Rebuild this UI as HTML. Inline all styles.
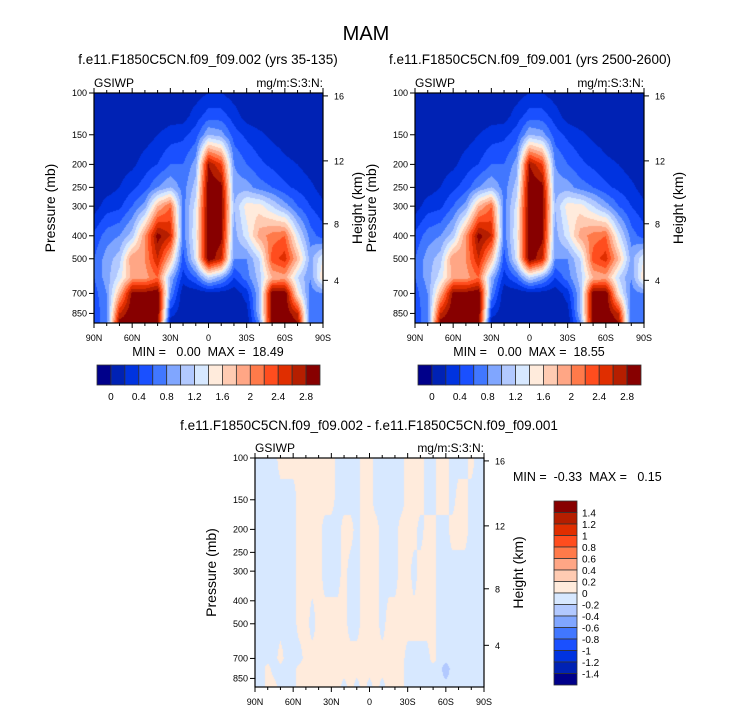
<!DOCTYPE html>
<html><head><meta charset="utf-8"><style>
html,body{margin:0;padding:0;background:#fff;}
#wrap{position:relative;width:733px;height:712px;overflow:hidden;font-family:"Liberation Sans",Arial,sans-serif;}
canvas{position:absolute;}
svg{position:absolute;left:0;top:0;}
</style></head><body>
<div id="wrap">
<canvas id="c1" width="229" height="230" style="left:94px;top:93px"></canvas>
<canvas id="c2" width="229" height="230" style="left:415px;top:93px"></canvas>
<canvas id="c3" width="229" height="229" style="left:255px;top:458px"></canvas>
<svg id="ov" width="733" height="712"></svg>
</div>
<script>
// ---------- data ----------
const lats=[90,80,70,60,50,40,30,20,10,0,-10,-20,-30,-40,-50,-60,-70,-80,-90];
const presLevels=[100,125,150,200,250,300,400,500,600,700,850,925];
const iwp002=[
[.05,.05,.05,.05,.05,.1,.45,.6,.6,.5,.5,.5],
[.05,.05,.05,.05,.1,.3,.7,.9,.9,.8,.7,.7],
[.05,.05,.05,.1,.2,.35,.8,1.1,1.3,1.8,2.6,2.9],
[.05,.05,.05,.15,.35,.6,1.1,2.0,1.9,2.9,3.0,3.0],
[.05,.05,.1,.3,.5,.9,2.0,2.0,1.9,2.9,3.0,3.0],
[.05,.05,.2,.4,.8,1.8,2.9,2.6,2.2,3.0,3.0,2.8],
[.05,.1,.3,.6,1.0,2.2,2.6,1.8,1.0,.8,.3,.1],
[.05,.1,.35,.6,.7,.7,.7,.5,.3,.05,.05,.05],
[.1,.3,.5,.9,1.1,1.3,1.4,1.3,.6,.05,.05,.05],
[.2,.5,1.0,2.8,3.0,3.0,3.0,3.0,1.2,.1,.05,.05],
[.2,.5,.9,2.4,2.9,3.0,2.9,2.6,.9,.1,.05,.05],
[.1,.3,.5,.8,.9,1.0,.9,.8,.4,.05,.05,.05],
[.05,.1,.35,.6,.9,1.5,1.3,.8,.7,.3,.1,.05],
[.05,.05,.25,.45,.7,1.5,1.9,1.2,1.1,1.0,1.0,.8],
[.05,.05,.15,.35,.6,1.2,2.1,2.3,1.8,3.0,3.0,3.0],
[.05,.05,.1,.25,.45,.9,2.2,2.5,1.9,3.0,3.0,3.0],
[.05,.05,.05,.2,.35,.6,1.3,1.8,1.2,1.5,2.6,2.8],
[.05,.05,.05,.1,.25,.4,.7,.9,.8,.7,.6,.6],
[.05,.05,.05,.05,.1,.25,.5,1.4,1.6,.8,.7,.7]];
const iwp001=[
[.05,.05,.05,.05,.05,.1,.45,.6,.6,.5,.5,.5],
[.05,.05,.05,.05,.1,.3,.7,.9,.9,.8,.7,.7],
[.05,.05,.05,.1,.2,.35,.8,1.1,1.3,1.8,2.6,2.9],
[.05,.05,.05,.15,.35,.6,1.1,2.0,1.9,2.9,3.0,3.0],
[.05,.05,.1,.3,.5,.9,2.0,2.0,1.9,2.9,3.0,3.0],
[.05,.05,.2,.4,.8,1.8,2.9,2.6,2.2,3.0,3.0,2.8],
[.05,.1,.3,.6,1.0,2.2,2.6,1.8,1.0,.8,.3,.1],
[.05,.1,.35,.6,.7,.7,.7,.5,.3,.05,.05,.05],
[.1,.3,.5,.9,1.1,1.3,1.4,1.3,.6,.05,.05,.05],
[.2,.5,1.0,2.8,3.0,3.0,3.0,3.0,1.2,.1,.05,.05],
[.2,.5,.9,2.4,2.9,3.0,2.9,2.6,.9,.1,.05,.05],
[.1,.3,.5,.8,.9,1.0,.9,.8,.4,.05,.05,.05],
[.05,.1,.35,.6,.9,1.5,1.3,.8,.7,.3,.1,.05],
[.05,.05,.25,.45,.7,1.5,1.9,1.2,1.1,1.0,1.0,.8],
[.05,.05,.15,.35,.6,1.2,2.1,2.3,1.8,3.0,3.0,3.0],
[.05,.05,.1,.25,.45,.9,2.2,2.5,1.9,3.0,3.0,3.0],
[.05,.05,.05,.2,.35,.6,1.3,1.8,1.2,1.5,2.6,2.8],
[.05,.05,.05,.1,.25,.4,.7,.9,.8,.7,.6,.6],
[.05,.05,.05,.05,.1,.25,.5,1.4,1.6,.8,.7,.7]];
const diffLats=[90,85,80,75,70,65,60,55,50,45,40,35,30,25,20,15,10,5,0,-5,-10,-15,-20,-25,-30,-35,-40,-45,-50,-55,-60,-65,-70,-75,-80,-85,-90];
const diffLevels=[100,150,200,300,500,700,775,925];
const diff100=[-.1,-.1,-.1,-.1,.1,.1,.1,.1,.1,.1,.1,.1,.1,-.1,-.1,-.1,-.1,.1,.1,-.1,-.1,-.1,-.1,-.1,.1,.1,.1,-.1,-.1,.1,.1,-.1,-.1,-.1,.1,-.1,-.1];
const diff150=[-.1,-.1,-.1,-.1,-.1,-.1,-.1,.1,.1,.1,.1,.1,.1,-.1,-.1,-.1,-.1,.1,.1,-.1,-.1,-.1,-.1,-.1,.1,.1,.1,-.1,-.1,.1,.1,-.1,.1,.1,-.1,-.1,-.1];
const diff200=[-.1,-.1,-.1,-.1,-.1,-.1,-.1,.1,.1,.1,.1,-.1,-.1,-.1,.1,.1,-.1,.1,.1,.1,-.1,-.1,-.1,.1,.1,.1,-.1,.1,.1,-.1,-.1,.1,.1,.1,-.1,-.1,-.1];
const diff300=[-.1,-.1,-.1,-.1,-.1,-.1,-.1,.1,.1,.1,.1,-.1,-.1,-.1,.1,-.1,-.1,.1,.1,.1,-.1,-.1,-.1,.1,.1,-.1,.1,.1,.1,-.1,-.1,-.1,-.1,-.1,-.1,-.1,-.1];
const diff500=[-.1,-.1,-.1,-.1,-.1,-.1,-.1,.1,.1,-.1,.1,.1,.1,.1,.1,-.1,-.1,.1,.1,.1,-.1,.1,.1,.1,.1,.1,.1,.1,.1,-.1,-.1,-.1,-.1,-.1,-.1,-.1,-.1];
const diff700=[-.1,-.1,-.1,-.1,.1,-.1,-.1,-.1,.1,.1,.1,.1,.1,.1,.1,.1,.1,.1,.1,.1,.1,.1,.1,.1,-.1,-.1,-.1,-.1,.1,-.1,-.1,-.1,-.1,-.1,-.1,-.1,-.1];
const diff775=[-.1,-.1,.1,-.1,-.1,-.1,-.1,.1,.1,.1,.1,.1,.1,.1,.1,.1,.1,.1,.1,.1,.1,.1,.1,.1,-.1,-.1,-.1,-.1,-.1,-.1,-.35,-.1,-.1,-.1,-.1,-.1,-.1];
const diff925=[-.1,-.1,.1,.1,-.1,-.1,-.1,.1,.1,.1,.1,.1,.1,.1,-.1,.1,-.1,.1,-.1,.1,-.1,.1,.1,.1,-.1,-.1,-.1,-.1,-.1,-.1,-.1,-.1,-.1,-.1,-.1,-.1,-.1];
const diffRows=[diff100,diff150,diff200,diff300,diff500,diff700,diff775,diff925];
const fieldLevelLabels=["0","0.4","0.8","1.2","1.6","2","2.4","2.8"];
const diffLevelLabels=["1.4","1.2","1","0.8","0.6","0.4","0.2","0","-0.2","-0.4","-0.6","-0.8","-1","-1.2","-1.4"];
const presTicks=[100,150,200,250,300,400,500,700,850];
const heightTicks=[4,8,12,16];
const latTicks=[90,60,30,0,-30,-60,-90];
const latLabels=["90N","60N","30N","0","30S","60S","90S"];
const colors=["#00008a","#0022b4","#0033e0","#1a50ff","#4177ff","#80a6ff","#b2c9ff","#d7e8ff","#ffebdc","#ffcbb2","#ffa685","#ff7a4a","#ff4d1e","#e02e00","#b51e00","#870000"];

// ---------- helpers ----------
const PSCALE=103;
function yOfP(p){return PSCALE*Math.log(p/100);}
function xOfLat(lat,w){return (90-lat)/180*w;}
function pOfKm(z){z*=1000;return z<=11000?1013.25*Math.pow(1-2.25577e-5*z,5.25588):226.3*Math.exp(-(z-11000)/6341.6);}
function hexRgb(h){return [parseInt(h.substr(1,2),16),parseInt(h.substr(3,2),16),parseInt(h.substr(5,2),16)];}
const rgb=colors.map(hexRgb);
function locate(arr,v,desc){
  for(let i=0;i<arr.length-1;i++){
    const a=arr[i],b=arr[i+1];
    if(desc? (v<=a&&v>=b):(v>=a&&v<=b)) return i+(v-a)/(b-a);
  }
  return desc?(v>arr[0]?0:arr.length-1):(v<arr[0]?0:arr.length-1);
}
function interp(get,nx,ny,fx,fy){
  const i=Math.min(Math.floor(fx),nx-2),j=Math.min(Math.floor(fy),ny-2);
  const tx=fx-i,ty=fy-j;
  return get(i,j)*(1-tx)*(1-ty)+get(i+1,j)*tx*(1-ty)+get(i,j+1)*(1-tx)*ty+get(i+1,j+1)*tx*ty;
}
function drawField(id,w,h,get,latArr,levArr,colorIdx){
  const cv=document.getElementById(id),ctx=cv.getContext('2d');
  const img=ctx.createImageData(w,h);
  const lnLev=levArr.map(p=>Math.log(p));
  for(let py=0;py<h;py++){
    let p=100*Math.exp((py+0.5)/PSCALE);
    const fy=locate(lnLev,Math.log(Math.min(p,levArr[levArr.length-1])),false);
    for(let px=0;px<w;px++){
      const lat=90-(px+0.5)/w*180;
      const fx=locate(latArr,lat,true);
      const v=interp(get,latArr.length,levArr.length,fx,fy);
      const c=rgb[colorIdx(v)],k=(py*w+px)*4;
      img.data[k]=c[0];img.data[k+1]=c[1];img.data[k+2]=c[2];img.data[k+3]=255;
    }
  }
  ctx.putImageData(img,0,0);
}
const topIdx=v=>v<0?0:Math.min(15,Math.floor(v/0.2)+1);
const diffIdx=v=>Math.max(0,Math.min(15,Math.floor((v+1.4)/0.2)+1));
drawField('c1',229,230,(i,j)=>iwp002[i][j],lats,presLevels,topIdx);
drawField('c2',229,230,(i,j)=>iwp001[i][j],lats,presLevels,topIdx);
drawField('c3',229,229,(i,j)=>diffRows[j][i],diffLats,diffLevels,diffIdx);

// ---------- svg ----------
const NS="http://www.w3.org/2000/svg",svg=document.getElementById('ov');
function mk(tag,attrs){const e=document.createElementNS(NS,tag);for(const k in attrs)e.setAttribute(k,attrs[k]);svg.appendChild(e);return e;}
function txt(s,x,y,size,anchor,extra){const t=mk('text',Object.assign({x:x,y:y,'font-size':size,'text-anchor':anchor||'start',fill:'#000','font-family':'Liberation Sans, Arial, sans-serif'},extra||{}));t.textContent=s;return t;}

let t=txt("MAM",366,40,20,"middle");



function panel(x0,y0,w,h,title,titleX,titleY,prefix){
  const fr=mk('rect',{x:x0,y:y0,width:w,height:h,fill:'none',stroke:'#000','stroke-width':1.2});
  
  
  let e=txt(title,titleX,titleY,13.5,"middle");
  
  
  e=txt("GSIWP",x0,y0-6,12,"start");
  
  
  e=txt("mg/m:S:3:N:",x0+w,y0-6,12,"end");
  
  
  presTicks.forEach(p=>{
    const y=y0+yOfP(p);
    const l=mk('line',{x1:x0-5,x2:x0,y1:y,y2:y,stroke:'#000','stroke-width':1});
    
    
    const tl=txt(String(p),x0-7,y+3.2,9,"end");
    
    
  });
  heightTicks.forEach(z=>{
    const y=y0+yOfP(pOfKm(z));
    const l=mk('line',{x1:x0+w,x2:x0+w+5,y1:y,y2:y,stroke:'#000','stroke-width':1});
    
    
    const tl=txt(String(z),x0+w+11,y+3.5,9,"start");
    
    
  });
  for(let lat=90;lat>=-90;lat-=10){
    const x=x0+xOfLat(lat,w),major=(lat%30===0),len=major?5:3;
    const lb=mk('line',{x1:x,x2:x,y1:y0+h,y2:y0+h+len,stroke:'#000','stroke-width':1});
    
    
    const lt=mk('line',{x1:x,x2:x,y1:y0-len,y2:y0,stroke:'#000','stroke-width':1});
    
    
  }
  latTicks.forEach((lat,i)=>{
    const tl=txt(latLabels[i],x0+xOfLat(lat,w),y0+h+18,9,"middle");
    
    
  });
  const cy=y0+h/2;
  e=txt("Pressure (mb)",0,0,14,"middle",{transform:`translate(${x0-39},${cy}) rotate(-90)`});
  
  
  e=txt("Height (km)",0,0,14,"middle",{transform:`translate(${x0+w+39},${cy}) rotate(-90)`});
  
  
}
panel(94,93,229,230,"f.e11.F1850C5CN.f09_f09.002 (yrs 35-135)",208,64,"case002");
panel(415,93,229,230,"f.e11.F1850C5CN.f09_f09.001 (yrs 2500-2600)",530,64,"case001");
panel(255,458,229,229,"f.e11.F1850C5CN.f09_f09.002 - f.e11.F1850C5CN.f09_f09.001",369,430,"difference");

t=txt("MIN =   0.00  MAX =  18.49",208,356,12.5,"middle",{style:'white-space:pre'});


t=txt("MIN =   0.00  MAX =  18.55",529,356,12.5,"middle",{style:'white-space:pre'});


t=txt("MIN =  -0.33  MAX =   0.15",513,481,12.5,"start",{style:'white-space:pre'});



function hbar(x0,y0,w,h,prefix){
  const bw=w/16;
  colors.forEach((c,i)=>{
    const r=mk('rect',{x:x0+i*bw,y:y0,width:bw,height:h,fill:c,stroke:'#333','stroke-width':0.8});
    
    
  });
  fieldLevelLabels.forEach((s,i)=>{
    const l=txt(s,x0+(1+2*i)*bw,y0+h+15,10,"middle");
    
    
  });
}
hbar(97,365,223,20,"case002");
hbar(418,365,223,20,"case001");

const vx=554,vy=501,vw=23,vh=184,bh=vh/16;
colors.slice().reverse().forEach((c,i)=>{
  const r=mk('rect',{x:vx,y:vy+i*bh,width:vw,height:bh,fill:c,stroke:'#333','stroke-width':0.8});
  
  
});
diffLevelLabels.forEach((s,i)=>{
  const l=txt(s,vx+vw+5,vy+(i+1)*bh+4,10,"start");
  
  
});
</script>
</body></html>
